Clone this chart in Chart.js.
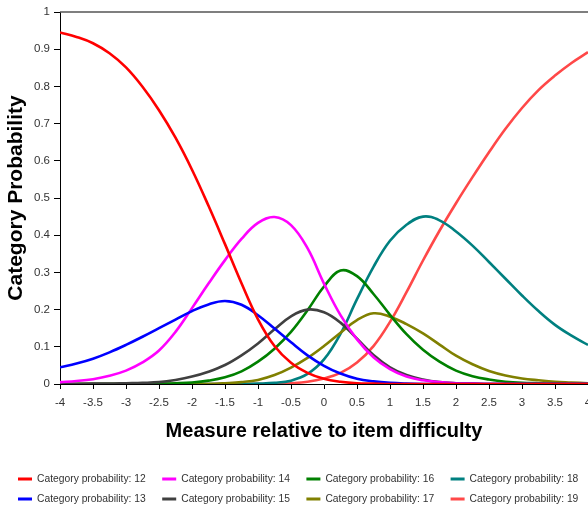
<!DOCTYPE html>
<html>
<head>
<meta charset="utf-8">
<script src="https://cdn.jsdelivr.net/npm/chart.js@4.4.1/dist/chart.umd.min.js"></script>
<style>
  html, body { margin: 0; padding: 0; background: #fff; overflow: hidden; }
  #wrap { width: 588px; height: 507px; }
</style>
</head>
<body>
<div id="wrap"><canvas id="chart"></canvas></div>
<script>
// measure relative to item difficulty (x positions of the readings)
const measures = [-4, -3.75, -3.5, -3.25, -3, -2.75, -2.5, -2.25, -2, -1.75, -1.5, -1.25, -1, -0.75, -0.5, -0.25,
  0, 0.25, 0.5, 0.75, 1, 1.25, 1.5, 1.75, 2, 2.25, 2.5, 2.75, 3, 3.25, 3.5, 3.75, 4];

// category probabilities
const cat12 = [0.945, 0.933, 0.916, 0.889, 0.851, 0.799, 0.736, 0.662, 0.576, 0.479, 0.376, 0.271, 0.174, 0.102, 0.057, 0.03,
  0.014, 0.006, 0.002, 0.001, 0, 0, 0, 0, 0, 0, 0, 0, 0, 0, 0, 0, 0];
const cat13 = [0.045, 0.055, 0.068, 0.085, 0.105, 0.127, 0.15, 0.173, 0.196, 0.214, 0.223, 0.213, 0.185, 0.149, 0.112, 0.077,
  0.049, 0.028, 0.014, 0.007, 0.003, 0.001, 0, 0, 0, 0, 0, 0, 0, 0, 0, 0, 0];
const cat14 = [0.005, 0.008, 0.013, 0.022, 0.036, 0.058, 0.09, 0.14, 0.204, 0.27, 0.333, 0.39, 0.433, 0.449, 0.427, 0.365,
  0.27, 0.185, 0.12, 0.072, 0.04, 0.02, 0.01, 0.005, 0.002, 0.001, 0, 0, 0, 0, 0, 0, 0];
const cat15 = [0, 0, 0.001, 0.001, 0.002, 0.003, 0.005, 0.011, 0.02, 0.033, 0.051, 0.077, 0.109, 0.147, 0.182, 0.2,
  0.193, 0.165, 0.122, 0.078, 0.045, 0.024, 0.012, 0.005, 0.002, 0.001, 0, 0, 0, 0, 0, 0, 0];
const cat16 = [0, 0, 0, 0, 0, 0, 0.001, 0.002, 0.004, 0.009, 0.018, 0.034, 0.06, 0.095, 0.14, 0.198,
  0.262, 0.305, 0.29, 0.242, 0.186, 0.134, 0.092, 0.06, 0.036, 0.021, 0.012, 0.006, 0.003, 0.002, 0.001, 0, 0];
const cat17 = [0, 0, 0, 0, 0, 0, 0, 0, 0, 0, 0.002, 0.005, 0.011, 0.024, 0.044, 0.07,
  0.102, 0.138, 0.172, 0.19, 0.181, 0.161, 0.136, 0.106, 0.076, 0.053, 0.035, 0.023, 0.015, 0.01, 0.006, 0.004, 0.002];
const cat18 = [0, 0, 0, 0, 0, 0, 0, 0, 0, 0, 0, 0, 0.001, 0.003, 0.009, 0.027,
  0.066, 0.135, 0.228, 0.315, 0.385, 0.428, 0.45, 0.44, 0.41, 0.372, 0.328, 0.283, 0.238, 0.196, 0.159, 0.13, 0.105];
const cat19 = [0, 0, 0, 0, 0, 0, 0, 0, 0, 0, 0, 0, 0, 0, 0.002, 0.006,
  0.015, 0.03, 0.058, 0.102, 0.167, 0.247, 0.332, 0.412, 0.486, 0.556, 0.623, 0.686, 0.742, 0.79, 0.829, 0.863, 0.892];

const categories = ['12', '13', '14', '15', '16', '17', '18', '19'];
const seriesValues = [cat12, cat13, cat14, cat15, cat16, cat17, cat18, cat19];
const seriesColors = ['#ff0000', '#0000ff', '#ff00ff', '#404040', '#008000', '#808000', '#008080', '#ff4848'];

const xTicks = [-4, -3.5, -3, -2.5, -2, -1.5, -1, -0.5, 0, 0.5, 1, 1.5, 2, 2.5, 3, 3.5, 4];
const yTicks = [0, 0.1, 0.2, 0.3, 0.4, 0.5, 0.6, 0.7, 0.8, 0.9, 1];

const FONT = '"Liberation Sans", Arial, sans-serif';

// thin frame line along the top of the plot
const topBorder = {
  id: 'topBorder',
  afterDraw(chart) {
    const { ctx, chartArea: a } = chart;
    ctx.save();
    ctx.strokeStyle = '#555';
    ctx.lineWidth = 1.5;
    ctx.beginPath();
    ctx.moveTo(a.left, a.top);
    ctx.lineTo(a.right, a.top);
    ctx.stroke();
    ctx.restore();
  }
};

// legend: 4 columns x 2 rows, filled column by column
const bottomLegend = {
  id: 'bottomLegend',
  afterDraw(chart) {
    const ctx = chart.ctx;
    ctx.save();
    ctx.font = '10.3px ' + FONT;
    ctx.textBaseline = 'middle';
    chart.data.datasets.forEach((ds, i) => {
      const tx = 37 + Math.floor(i / 2) * 144.2;
      const ty = 479 + (i % 2) * 20;
      ctx.fillStyle = ds.borderColor;
      ctx.fillRect(tx - 19, ty - 1.5, 14, 3);
      ctx.fillStyle = '#333';
      ctx.fillText(ds.label, tx, ty);
    });
    ctx.restore();
  }
};

const datasets = categories.map((c, i) => ({
  label: 'Category probability: ' + c,
  data: measures.map((m, j) => ({ x: m, y: seriesValues[i][j] })),
  borderColor: seriesColors[i],
  backgroundColor: seriesColors[i],
  borderWidth: 2.6,
  pointRadius: 0,
  tension: 0.4,
  fill: false
}));

new Chart(document.getElementById('chart'), {
  type: 'line',
  data: { datasets: datasets },
  options: {
    responsive: true,
    maintainAspectRatio: false,
    animation: false,
    devicePixelRatio: 1,
    layout: { padding: { top: 12, right: 0, bottom: 64, left: 0 } },
    plugins: {
      legend: { display: false },
      tooltip: { enabled: false }
    },
    scales: {
      x: {
        type: 'linear',
        min: -4,
        max: 4,
        afterBuildTicks: s => { s.ticks = xTicks.map(v => ({ value: v })); },
        afterFit: s => { s.height = 59; s.paddingLeft = 0; s.paddingRight = 0; },
        grid: { drawOnChartArea: false, tickLength: 5, color: '#000' },
        border: { color: '#000', width: 1 },
        ticks: {
          color: '#333', font: { family: FONT, size: 11.5 }, padding: 7, maxRotation: 0, autoSkip: false,
          callback: v => String(v)
        },
        title: {
          display: true,
          text: 'Measure relative to item difficulty',
          color: '#000',
          font: { family: FONT, size: 20, weight: 'bold' },
          padding: 0
        }
      },
      y: {
        min: 0,
        max: 1,
        afterBuildTicks: s => { s.ticks = yTicks.map(v => ({ value: v })); },
        afterFit: s => { s.width = 60; },
        grid: { drawOnChartArea: false, tickLength: 6, color: '#000' },
        border: { color: '#000', width: 1 },
        ticks: { color: '#333', font: { family: FONT, size: 11.5 }, padding: 4, callback: v => String(v) },
        title: {
          display: true,
          text: 'Category Probability',
          color: '#000',
          font: { family: FONT, size: 21, weight: 'bold' },
          padding: { top: 4, bottom: 0 }
        }
      }
    }
  },
  plugins: [topBorder, bottomLegend]
});
</script>
</body>
</html>
